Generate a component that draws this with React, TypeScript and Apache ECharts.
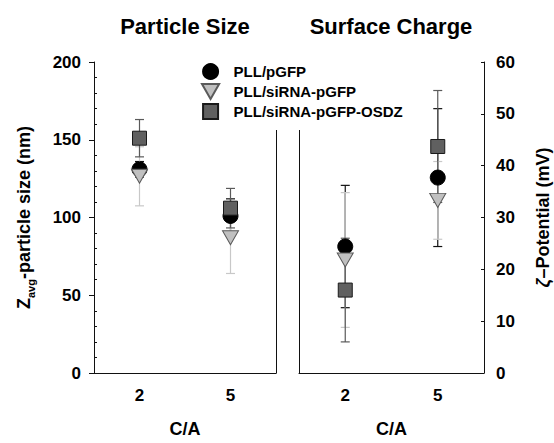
import React, { useEffect, useRef } from 'react';
import * as echarts from 'echarts';

const categories = ['2', '5'];
const seriesNames = ['PLL/pGFP', 'PLL/siRNA-pGFP', 'PLL/siRNA-pGFP-OSDZ'];

// Particle size (nm)
const sizePGFP = [131, 101];
const sizePGFPErr = [5, 11];
const sizeSiRNA = [126.5, 87];
const sizeSiRNAErr = [19, 23];
const sizeOSDZ = [151, 106];
const sizeOSDZErr = [12, 12.7];

// Zeta potential (mV)
const zetaPGFP = [24.4, 37.7];
const zetaPGFPErr = [11.8, 13.3];
const zetaSiRNA = [21.8, 33.3];
const zetaSiRNAErr = [13, 7.5];
const zetaOSDZ = [16, 43.7];
const zetaOSDZErr = [10, 10.8];

const FONT = '"Liberation Sans", Arial, sans-serif';
const TRI = 'path://M0,0L16,0L8,14Z';
const SQR = 'path://M0,0L10,0L10,10L0,10Z';

const markerStyles = [
  { symbol: 'circle', symbolSize: 15, itemStyle: { color: '#000000', borderColor: '#000000', borderWidth: 1, opacity: 1 } },
  { symbol: TRI, symbolSize: [16, 14], itemStyle: { color: '#c0c0c0', borderColor: '#5a5a5a', borderWidth: 1, opacity: 1 } },
  { symbol: SQR, symbolSize: 14, itemStyle: { color: '#606060', borderColor: '#1a1a1a', borderWidth: 1, opacity: 1 } },
];
const errColors = ['#111111', '#c8c8c8', '#5a5a5a'];

function errorSeries(xi: number, yi: number, means: number[], errs: number[], color: string) {
  return {
    type: 'custom',
    xAxisIndex: xi,
    yAxisIndex: yi,
    silent: true,
    z: 1,
    encode: { x: 0, y: [1, 2] },
    data: means.map((m, i) => [i, m - errs[i], m + errs[i]]),
    renderItem: (params: any, api: any) => {
      const x = api.value(0);
      const lo = api.coord([x, api.value(1)]);
      const hi = api.coord([x, api.value(2)]);
      const hw = 4.5;
      const st = { stroke: color, lineWidth: 1.2 };
      return {
        type: 'group',
        children: [
          { type: 'line', shape: { x1: lo[0], y1: lo[1], x2: hi[0], y2: hi[1] }, style: st },
          { type: 'line', shape: { x1: lo[0] - hw, y1: lo[1], x2: lo[0] + hw, y2: lo[1] }, style: st },
          { type: 'line', shape: { x1: hi[0] - hw, y1: hi[1], x2: hi[0] + hw, y2: hi[1] }, style: st },
        ],
      };
    },
  };
}

function scatterSeries(idx: number, xi: number, yi: number, values: number[]) {
  return {
    type: 'scatter',
    name: seriesNames[idx],
    xAxisIndex: xi,
    yAxisIndex: yi,
    z: 3 + idx,
    data: values,
    ...markerStyles[idx],
  };
}

const labelStyle = { fontSize: 17, fontWeight: 'bold', color: '#000', fontFamily: FONT };
const nameStyle = { fontSize: 18, fontWeight: 'bold', color: '#000', fontFamily: FONT };
const lineStyle = { color: '#111', width: 1 };

function xAxis(grid: number) {
  return {
    type: 'category',
    gridIndex: grid,
    data: categories,
    boundaryGap: true,
    axisLine: { onZero: false, lineStyle },
    axisTick: { alignWithLabel: true, length: 5, lineStyle },
    axisLabel: { ...labelStyle, margin: 14 },
    name: 'C/A',
    nameLocation: 'middle',
    nameGap: 47,
    nameTextStyle: nameStyle,
    splitLine: { show: false },
  };
}

export default function App() {
  const ref = useRef<HTMLDivElement>(null);
  useEffect(() => {
    if (!ref.current) return;
    const chart = echarts.init(ref.current, null, { renderer: 'svg' });
    const option: any = {
      animation: false,
      backgroundColor: '#ffffff',
      textStyle: { fontFamily: FONT },
      graphic: [
        {
          type: 'text', x: 185, y: 26, z: 10,
          style: { text: 'Particle Size', font: `bold 22px ${FONT}`, fill: '#000', align: 'center', verticalAlign: 'middle', textAlign: 'center', textVerticalAlign: 'middle' },
        },
        {
          type: 'text', x: 391, y: 26, z: 10,
          style: { text: 'Surface Charge', font: `bold 22px ${FONT}`, fill: '#000', align: 'center', verticalAlign: 'middle', textAlign: 'center', textVerticalAlign: 'middle' },
        },
      ],
      legend: {
        data: seriesNames,
        orient: 'vertical',
        left: 197,
        top: 58,
        padding: [5, 10, 10, 4],
        itemWidth: 36,
        itemHeight: 15,
        itemGap: 3,
        backgroundColor: '#ffffff',
        textStyle: { fontSize: 15, fontWeight: 'bold', color: '#000', fontFamily: FONT, lineHeight: 15 },
        selectedMode: false,
        z: 20,
      },
      grid: [
        { left: 94, right: 278, top: 62, bottom: 65 },
        { left: 299, right: 70, top: 62, bottom: 65 },
      ],
      xAxis: [xAxis(0), xAxis(1)],
      yAxis: [
        {
          type: 'value', gridIndex: 0, position: 'left', min: 0, max: 200, interval: 50,
          axisLine: { show: true, lineStyle },
          axisTick: { show: true, length: 5, lineStyle },
          axisLabel: { ...labelStyle, margin: 13 },
          splitLine: { show: false },
          name: '{z|Z}{s|avg}{n|-particle size (nm)}',
          nameLocation: 'middle',
          nameRotate: 90,
          nameGap: 58,
          nameTextStyle: {
            ...nameStyle,
            rich: {
              z: { fontSize: 18, fontWeight: 'bold', fontFamily: FONT, color: '#000', lineHeight: 18, verticalAlign: 'middle' },
              s: { fontSize: 11, fontWeight: 'bold', fontFamily: FONT, color: '#000', lineHeight: 24, verticalAlign: 'bottom' },
              n: { fontSize: 18, fontWeight: 'bold', fontFamily: FONT, color: '#000', lineHeight: 18, verticalAlign: 'middle' },
            },
          },
        },
        {
          type: 'value', gridIndex: 0, position: 'left', min: 0, max: 200, interval: 50,
          axisLine: { show: false },
          axisTick: { show: false, inside: true },
          minorTick: { show: true, splitNumber: 5, length: 3, lineStyle: { color: '#111', width: 1 } },
          axisLabel: { show: false },
          splitLine: { show: false },
        },
        {
          type: 'value', gridIndex: 0, position: 'right', min: 0, max: 200, interval: 50,
          axisLine: { show: true, lineStyle },
          axisTick: { show: false },
          axisLabel: { show: false },
          splitLine: { show: false },
        },
        {
          type: 'value', gridIndex: 1, position: 'right', min: 0, max: 60, interval: 10,
          axisLine: { show: true, lineStyle },
          axisTick: { show: true, inside: true, length: 3, lineStyle },
          axisLabel: { ...labelStyle, margin: 12 },
          splitLine: { show: false },
          name: '{g|ζ}{n|–Potential (mV)}',
          nameLocation: 'middle',
          nameRotate: 90,
          nameGap: 50,
          nameTextStyle: {
            ...nameStyle,
            rich: {
              g: { fontSize: 18, fontStyle: 'italic', fontFamily: FONT, color: '#000' },
              n: { fontSize: 18, fontWeight: 'bold', fontFamily: FONT, color: '#000' },
            },
          },
        },
        {
          type: 'value', gridIndex: 1, position: 'left', min: 0, max: 60, interval: 10,
          axisLine: { show: true, lineStyle },
          axisTick: { show: false },
          axisLabel: { show: false },
          splitLine: { show: false },
        },
      ],
      series: [
        errorSeries(0, 0, sizePGFP, sizePGFPErr, errColors[0]),
        errorSeries(0, 0, sizeSiRNA, sizeSiRNAErr, errColors[1]),
        errorSeries(0, 0, sizeOSDZ, sizeOSDZErr, errColors[2]),
        errorSeries(1, 3, zetaPGFP, zetaPGFPErr, errColors[0]),
        errorSeries(1, 3, zetaSiRNA, zetaSiRNAErr, errColors[1]),
        errorSeries(1, 3, zetaOSDZ, zetaOSDZErr, errColors[2]),
        scatterSeries(0, 0, 0, sizePGFP),
        scatterSeries(1, 0, 0, sizeSiRNA),
        scatterSeries(2, 0, 0, sizeOSDZ),
        scatterSeries(0, 1, 3, zetaPGFP),
        scatterSeries(1, 1, 3, zetaSiRNA),
        scatterSeries(2, 1, 3, zetaOSDZ),
      ],
    };
    chart.setOption(option);
    return () => chart.dispose();
  }, []);
  return <div ref={ref} style={{ position: 'absolute', left: 0, top: 0, width: 554, height: 443 }} />;
}
